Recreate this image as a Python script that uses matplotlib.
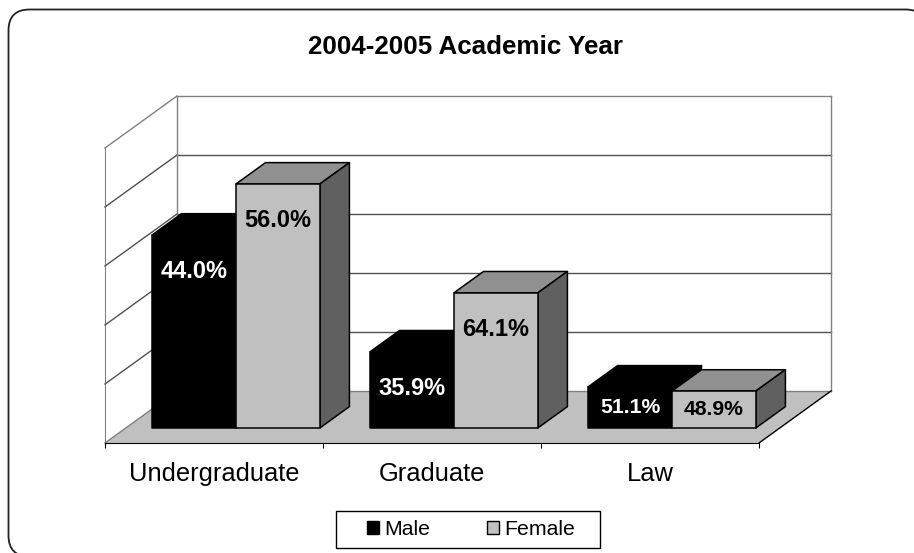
import matplotlib
matplotlib.use("Agg")
import matplotlib.pyplot as plt
from matplotlib.patches import FancyBboxPatch, Polygon, Patch, Rectangle

plt.rcParams['font.family'] = ['Liberation Sans', 'DejaVu Sans']

title = "2004-2005 Academic Year"
categories = ["Undergraduate", "Graduate", "Law"]
series_names = ["Male", "Female"]
male_values = [3270, 1290, 695]
female_values = [4135, 2290, 625]
male_labels = ["44.0%", "35.9%", "51.1%"]
female_labels = ["56.0%", "64.1%", "48.9%"]
value_ticks = [0, 1000, 2000, 3000, 4000, 5000]

W, H = 914, 553
# oblique depth: one full depth unit in data coordinates
DEPTH_X = 72 / 218
DEPTH_Y = 52 / 59 * 1000
BAR_W = 0.385
GAP = 0.12
D_FRONT, D_BACK = 0.29, 0.70


def proj(x, y, d):
    return (x + d * DEPTH_X, y + d * DEPTH_Y)


def draw_bar(ax, x, value, front, top, side, edge, z):
    x2 = x + BAR_W
    faces = [
        ([proj(x, value, D_FRONT), proj(x2, value, D_FRONT), proj(x2, value, D_BACK), proj(x, value, D_BACK)], top),
        ([proj(x2, 0, D_FRONT), proj(x2, value, D_FRONT), proj(x2, value, D_BACK), proj(x2, 0, D_BACK)], side),
        ([proj(x, 0, D_FRONT), proj(x2, 0, D_FRONT), proj(x2, value, D_FRONT), proj(x, value, D_FRONT)], front),
    ]
    for pts, color in faces:
        ax.add_patch(Polygon(pts, closed=True, facecolor=color, edgecolor=edge, linewidth=1.1,
                             joinstyle='round', clip_on=False, zorder=z))


def label_y(value):
    return max(value / 2, value - 620)


def label_size(value):
    # the short Law bars carry smaller labels
    return 17 if value > 1000 else 15.2


fig = plt.figure(figsize=(W / 100, H / 100), dpi=100)

# rounded outer frame, runs off the right and bottom of the picture
bg = fig.add_axes([0, 0, 1, 1])
bg.set_xlim(0, W)
bg.set_ylim(H, 0)
bg.axis('off')
bg.add_patch(FancyBboxPatch((8.5, 9.5), 918, 547, boxstyle="round,pad=0,rounding_size=21",
                            facecolor='white', edgecolor='#222222', linewidth=1.3))
bg.text(465.5, 46.5, title, ha='center', va='center', fontsize=18.7, fontweight='bold')
bg.add_patch(Rectangle((336, 511), 264, 37, facecolor='white', edgecolor='black', linewidth=1))

ax = fig.add_axes([105 / W, (H - 443) / H, 654 / W, 295 / H])
ax.patch.set_alpha(0)
ax.set_xlim(0, 3)
ax.set_ylim(0, 5000)
for s in ['top', 'right']:
    ax.spines[s].set_visible(False)
ax.spines['left'].set_color('#808080')
ax.spines['left'].set_zorder(1)
ax.spines['bottom'].set_color('black')
ax.spines['bottom'].set_zorder(2)

# floor and walls
ax.add_patch(Polygon([proj(0, 0, 0), proj(3, 0, 0), proj(3, 0, 1), proj(0, 0, 1)], closed=True,
                     facecolor='#c0c0c0', edgecolor='none', clip_on=False, zorder=1))
for v in value_ticks:
    grid_color = '#808080' if v in (0, 5000) else '#505050'
    ax.plot(*zip(proj(0, v, 0), proj(0, v, 1)), color=grid_color, lw=1, clip_on=False, zorder=1.5)
    ax.plot(*zip(proj(0, v, 1), proj(3, v, 1)), color=grid_color, lw=1, clip_on=False, zorder=1.5)
ax.plot(*zip(proj(0, 0, 1), proj(0, 5000, 1)), color='#808080', lw=1, clip_on=False, zorder=1.5)
ax.plot(*zip(proj(3, 0, 1), proj(3, 5000, 1)), color='#808080', lw=1, clip_on=False, zorder=1.5)
ax.plot(*zip(proj(3, 0, 0), proj(3, 0, 1)), color='black', lw=1, clip_on=False, zorder=1.5)

for i in range(len(categories)):
    x = i + GAP
    draw_bar(ax, x, male_values[i], 'black', 'black', 'black', 'black', 3 + i)
    draw_bar(ax, x + BAR_W, female_values[i], '#c0c0c0', '#909090', '#606060', 'black', 3 + i)
    lx, ly = proj(x + BAR_W / 2, label_y(male_values[i]), D_FRONT)
    ax.text(lx, ly, male_labels[i], color='white', ha='center', va='center',
            fontsize=label_size(male_values[i]), fontweight='bold', zorder=10)
    lx, ly = proj(x + BAR_W * 1.5, label_y(female_values[i]), D_FRONT)
    ax.text(lx, ly, female_labels[i], color='black', ha='center', va='center',
            fontsize=label_size(female_values[i]), fontweight='bold', zorder=10)

ax.set_yticks([])
ax.set_xticks(range(len(categories) + 1))
ax.set_xticklabels([])
ax.set_xticks([i + 0.5 for i in range(len(categories))], labels=categories, minor=True)
ax.tick_params(axis='x', which='major', length=3.5, width=0.8, color='black')
ax.tick_params(axis='x', which='minor', length=0, labelsize=18.4, pad=14)

handles = [Patch(facecolor='black', edgecolor='black', label=series_names[0]),
           Patch(facecolor='#c0c0c0', edgecolor='black', label=series_names[1])]
leg = fig.legend(handles=handles, ncol=2, loc='center', bbox_to_anchor=(471 / W, (H - 529.5) / H),
                 fontsize=15.3, frameon=False, handlelength=0.55, handleheight=0.55,
                 handletextpad=0.25, columnspacing=2.7, borderpad=0, borderaxespad=0)

fig.savefig("out.png", dpi=100)
